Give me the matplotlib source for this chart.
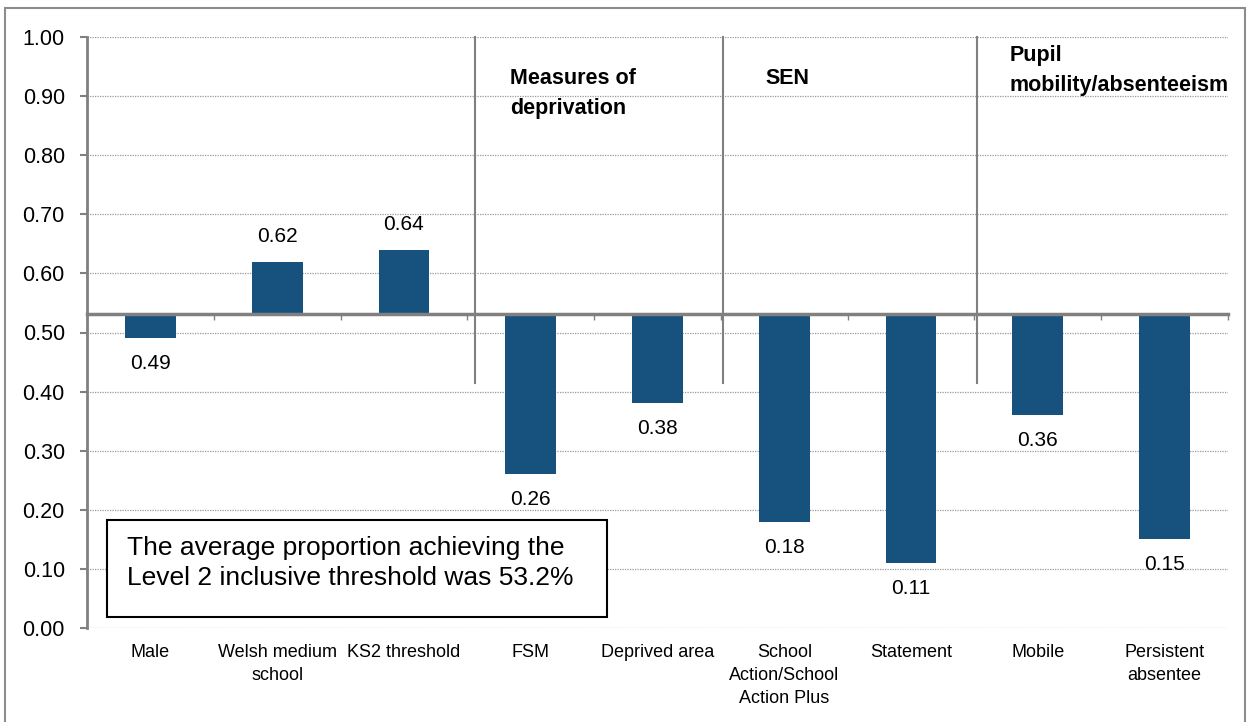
import numpy as np
import matplotlib.pyplot as plt
from matplotlib.patches import Rectangle

plt.rcParams['font.family'] = ['Liberation Sans', 'DejaVu Sans']

categories = ['Male', 'Welsh medium\nschool', 'KS2 threshold', 'FSM', 'Deprived area',
              'School\nAction/School\nAction Plus', 'Statement', 'Mobile', 'Persistent\nabsentee']
values = [0.49, 0.62, 0.64, 0.26, 0.38, 0.18, 0.11, 0.36, 0.15]
average = 0.532
groups = ['Measures of\ndeprivation', 'SEN', 'Pupil\nmobility/absenteeism']
group_lines = [2.56, 4.52, 6.52]
note = 'The average proportion achieving the\nLevel 2 inclusive threshold was 53.2%'

bar_color = '#17527f'
grey = '#808080'

fig = plt.figure(figsize=(12.53, 7.22), dpi=100)
ax = fig.add_axes([87 / 1253, 1 - 628 / 722, (1228 - 87) / 1253, (628 - 37) / 722])

x = np.arange(len(categories))
heights = [v - average for v in values]
ax.bar(x, heights, bottom=average, width=0.4, color=bar_color, zorder=3)

ax.set_xlim(-0.5, len(categories) - 0.5)
ax.set_ylim(0, 1.0)
ax.set_yticks(np.arange(0, 1.01, 0.1))
ax.set_yticklabels(['%.2f' % t for t in np.arange(0, 1.01, 0.1)], fontsize=15.5)
ax.yaxis.grid(True, linestyle=(0, (1, 1)), color='#999999', linewidth=0.9)
ax.set_axisbelow(True)

for s in ['top', 'right']:
    ax.spines[s].set_visible(False)
ax.spines['left'].set_color(grey)
ax.spines['left'].set_linewidth(2)
ax.spines['bottom'].set_position(('data', average))
ax.spines['bottom'].set_color(grey)
ax.spines['bottom'].set_linewidth(2.5)
ax.spines['bottom'].set_zorder(4)
ax.set_xticks(np.arange(-0.5, len(categories), 1.0))
ax.set_xticklabels([])
ax.tick_params(axis='x', length=4, color=grey, width=1)
ax.tick_params(axis='y', length=5, color=grey, width=1.5, pad=11)

# category names under the chart
for xi, name in zip(x, categories):
    ax.text(xi, -0.027, name, ha='center', va='top', fontsize=13,
            linespacing=1.45)

# value labels
for xi, v in zip(x, values):
    if v >= average:
        ax.text(xi, v + 0.027, '%.2f' % v, ha='center', va='bottom', fontsize=15)
    else:
        ax.text(xi, v - 0.027, '%.2f' % v, ha='center', va='top', fontsize=15)

# group separators and headings
for gx in group_lines:
    ax.plot([gx, gx], [0.415, 1.0], color=grey, linewidth=1.5, zorder=4, clip_on=False)
ax.text(2.84, 0.947, groups[0], ha='left', va='top', fontsize=15.5, fontweight='bold',
        linespacing=1.55)
ax.text(4.85, 0.947, groups[1], ha='left', va='top', fontsize=15.5, fontweight='bold')
ax.text(6.78, 0.986, groups[2], ha='left', va='top', fontsize=15.5, fontweight='bold',
        linespacing=1.55)

# note box
fig.patches.append(Rectangle((107 / 1253, 1 - 617 / 722), 500 / 1253, 97 / 722,
                             transform=fig.transFigure, fill=True, facecolor='white',
                             edgecolor='black', linewidth=1.5, zorder=5))
fig.text(127 / 1253, 1 - 536 / 722, note, ha='left', va='top', fontsize=19,
         linespacing=1.3, zorder=6)

# outer frame
fig.patches.append(Rectangle((5 / 1253, -0.01), 1240 / 1253, 1 - 8 / 722 + 0.01,
                             transform=fig.transFigure, fill=False,
                             edgecolor='#8c8c8c', linewidth=1.5))

fig.savefig('out.png', dpi=100)
